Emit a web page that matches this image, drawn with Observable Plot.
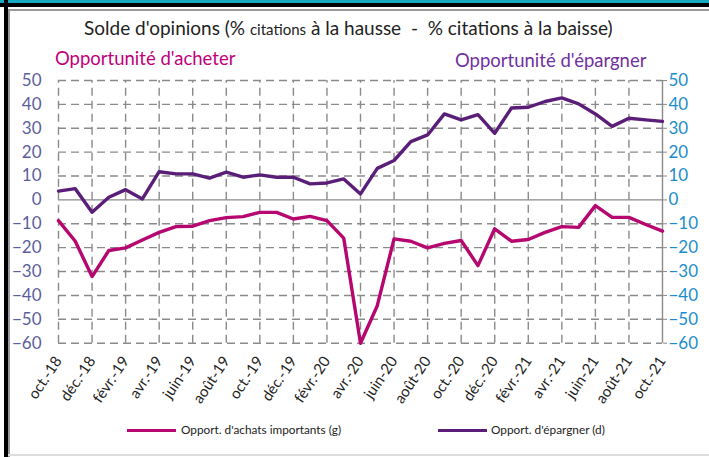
<!DOCTYPE html>
<html><head><meta charset="utf-8">
<script src="https://cdn.jsdelivr.net/npm/d3@7"></script>
<script src="https://cdn.jsdelivr.net/npm/@observablehq/plot@0.6"></script>
<style>
html,body{margin:0;padding:0;background:#fff;}
#wrap{position:relative;width:709px;height:457px;overflow:hidden;font-family:Lato,"Open Sans",sans-serif;}
.abs{position:absolute;white-space:nowrap;}
#chart{position:absolute;left:0;top:0;}
</style></head>
<body>
<div id="wrap">
  <div class="abs" style="left:0;top:0;width:709px;height:4px;background:#16a9c4"></div>
  <div class="abs" style="left:0;top:3px;width:709px;height:4px;background:#000"></div>
  <div class="abs" style="left:4px;top:0;width:4px;height:457px;background:#000"></div>
  <div class="abs" style="left:8px;top:9px;width:701px;height:2px;background:#999"></div>
  <div class="abs" style="left:8px;top:9px;width:2px;height:448px;background:#999"></div>
  <div class="abs" style="left:8px;top:454px;width:701px;height:2px;background:#ddd"></div>
  <div id="chart"></div>
  <div class="abs" id="title" style="left:84px;top:16px;font-size:19px;color:#222;">Solde d'opinions (% <span style="font-size:15px">citations</span> à la hausse&nbsp; - &nbsp;% citations à la baisse)</div>
  <div class="abs" id="t1" style="left:55px;top:47px;font-size:18.5px;color:#c0007a;">Opportunité d'acheter</div>
  <div class="abs" id="t2" style="left:455px;top:49px;font-size:18.5px;color:#7030a0;">Opportunité d'épargner</div>
  <div class="abs" style="left:127px;top:429px;width:49px;height:3px;background:#b5076f"></div>
  <div class="abs" style="left:181px;top:422px;font-size:11.8px;color:#222;">Opport. d'achats importants (g)</div>
  <div class="abs" style="left:438px;top:429px;width:49px;height:3px;background:#5a1e78"></div>
  <div class="abs" style="left:491px;top:422px;font-size:11.8px;color:#222;">Opport. d'épargner (d)</div>
</div>
<script>
const tickLabels = ["oct.-18","déc.-18","févr.-19","avr.-19","juin-19","août-19","oct.-19","déc.-19","févr.-20","avr.-20","juin-20","août-20","oct.-20","déc.-20","févr.-21","avr.-21","juin-21","août-21","oct.-21"];
// monthly values, oct. 2018 -> oct. 2021
const achats = [-8.7,-17.3,-32.1,-21.2,-20.1,-16.8,-13.6,-11.2,-11,-8.7,-7.4,-7,-5.2,-5.2,-8,-6.9,-8.7,-16,-60,-44.3,-16.3,-17.3,-20.1,-18.2,-17,-27.5,-12.1,-17.3,-16.6,-13.6,-11.2,-11.5,-2.4,-7.3,-7.3,-10.3,-13.1];
const epargner = [3.7,4.7,-5.2,1.1,4.3,0.4,11.8,10.9,10.9,9.1,11.6,9.5,10.5,9.5,9.5,6.7,7.1,8.8,2.5,13.2,16.5,24.4,27.2,36,33.5,35.7,27.9,38.5,38.8,41.2,42.7,40.2,36,30.8,34.2,33.5,32.9];
const yTicks = [-60,-50,-40,-30,-20,-10,0,10,20,30,40,50];

const months = achats.map((_, i) => i);
const xTicks = tickLabels.map((_, i) => i * 2);
const dA = months.map(i => ({i, v: achats[i]}));
const dE = months.map(i => ({i, v: epargner[i]}));
const grid = "#8a8a8a";

const chart = Plot.plot({
  width: 709, height: 420,
  marginLeft: 58, marginRight: 47, marginTop: 80, marginBottom: 77.3,
  style: {fontFamily: "Lato, 'Open Sans', sans-serif", background: "transparent"},
  x: {type: "linear", domain: [0, 36]},
  y: {domain: [-60, 50]},
  marks: [
    Plot.ruleY(yTicks.filter(d => d !== 0), {stroke: grid, strokeWidth: 1.4, strokeDasharray: "8,5"}),
    Plot.ruleX(xTicks.filter(d => d !== 36), {y1: -60, y2: 50, stroke: grid, strokeWidth: 1.4, strokeDasharray: "8,5"}),
    Plot.ruleX([36], {y1: -60, y2: 50, stroke: grid, strokeWidth: 1.4}),
    Plot.ruleY([0], {stroke: grid, strokeWidth: 1.4}),
    Plot.line(dA, {x: "i", y: "v", stroke: "#b5076f", strokeWidth: 3.4}),
    Plot.line(dE, {x: "i", y: "v", stroke: "#5a1e78", strokeWidth: 3.4}),
    Plot.axisY(yTicks, {anchor: "left", tickSize: 0, tickPadding: 17, fontSize: 17, color: "#5b5e9e", label: null}),
    Plot.axisY(yTicks, {anchor: "right", tickSize: 4, tickPadding: 2, fontSize: 17, color: "#1b8dcc", stroke: grid, label: null}),
    Plot.axisX(xTicks, {anchor: "bottom", tickSize: 0, tickPadding: 15, tickRotate: -56, fontSize: 15, color: "#222",
      tickFormat: d => tickLabels[d / 2], label: null})
  ]
});
document.getElementById("chart").appendChild(chart);
</script>
</body></html>
